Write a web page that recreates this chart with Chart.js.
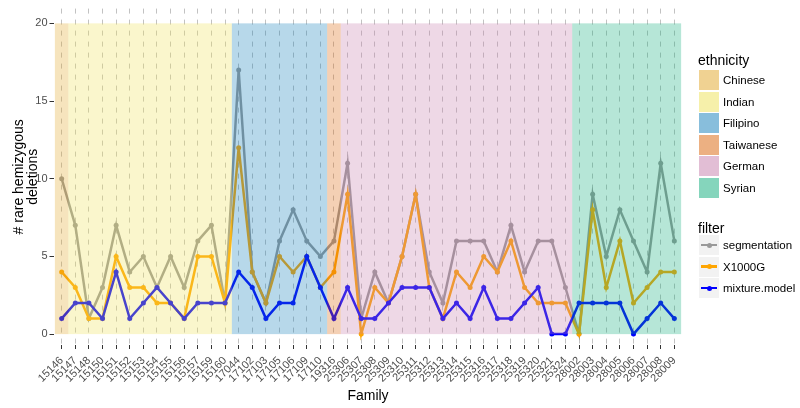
<!DOCTYPE html>
<html>
<head>
<meta charset="utf-8">
<title>Rare hemizygous deletions per family</title>
<script src="https://cdn.jsdelivr.net/npm/chart.js@4.4.1/dist/chart.umd.min.js"></script>
<style>
  body { margin: 0; background: #fff; }
  #wrap { position: relative; width: 800px; height: 408px; font-family: "Liberation Sans", Arial, sans-serif; }
  #chart { position: absolute; left: 0; top: 0; }
  .lg-title { position: absolute; left: 698px; font-size: 14px; line-height: 14px; color: #000; }
  .lg-key { position: absolute; left: 699px; width: 20px; height: 20px; }
  .lg-label { position: absolute; left: 723px; font-size: 11.5px; line-height: 20px; color: #000; white-space: nowrap; }
</style>
</head>
<body>
<div id="wrap">
  <canvas id="chart" width="800" height="408"></canvas>
  <div id="legend"></div>
</div>
<script>
// Valeurs
const families = ['15146', '15147', '15148', '15150', '15151', '15152', '15153', '15154', '15155', '15156',
    '15157', '15159', '15160', '17044', '17102', '17103', '17105', '17106', '17109', '17110',
    '19316', '25306', '25307', '25308', '25309', '25310', '25311', '25312', '25313', '25314',
    '25315', '25316', '25317', '25318', '25319', '25320', '25321', '25324', '28002', '28003',
    '28004', '28005', '28006', '28007', '28008', '28009'];

const familyEthnicity = ['Chinese',
    'Indian', 'Indian', 'Indian', 'Indian', 'Indian', 'Indian', 'Indian', 'Indian', 'Indian', 'Indian', 'Indian', 'Indian',
    'Filipino', 'Filipino', 'Filipino', 'Filipino', 'Filipino', 'Filipino', 'Filipino',
    'Taiwanese',
    'German', 'German', 'German', 'German', 'German', 'German', 'German', 'German', 'German', 'German',
    'German', 'German', 'German', 'German', 'German', 'German', 'German',
    'Syrian', 'Syrian', 'Syrian', 'Syrian', 'Syrian', 'Syrian', 'Syrian', 'Syrian'];

const ethnicities = ['Chinese', 'Indian', 'Filipino', 'Taiwanese', 'German', 'Syrian'];

const segmentation = [10, 7, 1, 3, 7, 4, 5, 3, 5, 3, 6, 7, 2, 17, 4, 2, 6, 8, 6, 5, 6,
    11, 1, 4, 2, 5, 9, 4, 2, 6, 6, 6, 4, 7, 4, 6, 6, 3, 0, 9, 5, 8, 6, 4, 11, 6];
const x1000g = [4, 3, 1, 1, 5, 3, 3, 2, 2, 1, 5, 5, 2, 12, 4, 2, 5, 4, 5, 3, 4,
    9, 0, 3, 2, 5, 9, 3, 1, 4, 3, 5, 4, 6, 3, 2, 2, 2, 0, 8, 3, 6, 2, 3, 4, 4];
const mixtureModel = [1, 2, 2, 1, 4, 1, 2, 3, 2, 1, 2, 2, 2, 4, 3, 1, 2, 2, 5, 3, 1,
    3, 1, 1, 2, 3, 3, 3, 1, 2, 1, 3, 1, 1, 2, 3, 0, 0, 2, 2, 2, 2, 0, 1, 2, 1];

const yTicks = [0, 5, 10, 15, 20];
const bandTop = 20;

// Couleurs
const ETHNICITY_RGB = {
    Chinese: [225, 165, 38],
    Indian: [238, 225, 85],
    Filipino: [18, 125, 185],
    Taiwanese: [218, 98, 5],
    German: [198, 125, 172],
    Syrian: [12, 172, 122]
};
const rgba = (rgb, a) => `rgba(${rgb[0]}, ${rgb[1]}, ${rgb[2]}, ${a})`;

const SERIES = [
    { label: 'segmentation', data: segmentation, color: '#999999' },
    { label: 'X1000G', data: x1000g, color: '#FFA500' },
    { label: 'mixture.model', data: mixtureModel, color: '#0000FF' }
];

const FONT = '"Liberation Sans", Arial, sans-serif';
Chart.defaults.font.family = FONT;

// fond blanc + bandes d'ethnie par-dessus les lignes (comme dans la figure)
const whiteBackground = {
    id: 'whiteBackground',
    beforeDraw(chart) {
        const ctx = chart.ctx;
        ctx.save();
        ctx.fillStyle = '#ffffff';
        ctx.fillRect(0, 0, chart.width, chart.height);
        ctx.restore();
    }
};

const ethnicityBands = {
    id: 'ethnicityBands',
    afterDatasetsDraw(chart) {
        const { ctx, scales: { x, y } } = chart;
        // regroupe les familles consécutives de même ethnie
        const runs = [];
        familyEthnicity.forEach((eth, i) => {
            const last = runs[runs.length - 1];
            if (last && last.eth === eth) last.end = i;
            else runs.push({ eth, start: i, end: i });
        });
        const yTop = y.getPixelForValue(bandTop);
        const yBottom = y.getPixelForValue(0);
        ctx.save();
        runs.forEach(r => {
            const x0 = x.getPixelForValue(r.start - 0.5);
            const x1 = x.getPixelForValue(r.end + 0.5);
            ctx.fillStyle = rgba(ETHNICITY_RGB[r.eth], 0.3);
            ctx.fillRect(x0, yTop, x1 - x0, yBottom - yTop);
        });
        ctx.restore();
    }
};

new Chart(document.getElementById('chart'), {
    type: 'line',
    data: {
        datasets: SERIES.map((s, k) => ({
            label: s.label,
            data: s.data.map((v, i) => ({ x: i, y: v })),
            borderColor: s.color,
            backgroundColor: s.color,
            borderWidth: 2.5,
            pointRadius: 2.5,
            pointBorderWidth: 0,
            tension: 0,
            order: SERIES.length - k
        }))
    },
    options: {
        responsive: false,
        animation: false,
        layout: { padding: { left: 0, right: 117.5, top: 4, bottom: 0 } },
        plugins: { legend: { display: false }, tooltip: { enabled: false } },
        scales: {
            x: {
                type: 'linear',
                min: -0.6,
                max: families.length - 1 + 0.6,
                afterBuildTicks: s => { s.ticks = families.map((f, i) => ({ value: i })); },
                afterFit: s => { s.height = 63; },
                ticks: {
                    callback: v => families[v],
                    autoSkip: false,
                    minRotation: 45,
                    maxRotation: 45,
                    color: '#4d4d4d',
                    font: { size: 11 },
                    padding: 5
                },
                grid: { color: '#c2c2c2', lineWidth: 1, tickColor: '#333333', tickLength: 4, tickBorderDash: [] },
                border: { display: false, dash: [5, 6] },
                title: { display: true, text: 'Family', color: '#000', font: { size: 14 }, padding: { top: 0, bottom: 3 } }
            },
            y: {
                min: -0.7,
                max: 20.95,
                afterBuildTicks: s => { s.ticks = yTicks.map(v => ({ value: v })); },
                afterFit: s => { s.width = 53.5; },
                ticks: { color: '#4d4d4d', font: { size: 11 }, padding: 2 },
                grid: { drawOnChartArea: false, tickColor: '#333333', tickLength: 4 },
                border: { display: false },
                title: {
                    display: true,
                    text: ['# rare hemizygous', 'deletions'],
                    color: '#000',
                    font: { size: 14, lineHeight: 1.0 },
                    padding: { top: 12, bottom: 0 }
                }
            }
        }
    },
    plugins: [whiteBackground, ethnicityBands]
});

// Légende (HTML)
function renderLegend() {
    const box = document.getElementById('legend');
    let html = `<div class="lg-title" style="top:53px">ethnicity</div>`;
    ethnicities.forEach((eth, i) => {
        const top = 70 + i * 21.6;
        html += `<div class="lg-key" style="top:${top}px;background:${rgba(ETHNICITY_RGB[eth], 0.5)}"></div>`;
        html += `<div class="lg-label" style="top:${top}px">${eth}</div>`;
    });
    html += `<div class="lg-title" style="top:221px">filter</div>`;
    SERIES.forEach((s, i) => {
        const top = 235 + i * 21.6;
        html += `<div class="lg-key" style="top:${top}px;background:#f2f2f2">
            <div style="position:absolute;left:2px;right:2px;top:8.75px;height:2.5px;background:${s.color}"></div>
            <div style="position:absolute;left:7.5px;top:7.5px;width:5px;height:5px;border-radius:50%;background:${s.color}"></div>
        </div>`;
        html += `<div class="lg-label" style="top:${top}px">${s.label}</div>`;
    });
    box.innerHTML = html;
}
renderLegend();
</script>
</body>
</html>
